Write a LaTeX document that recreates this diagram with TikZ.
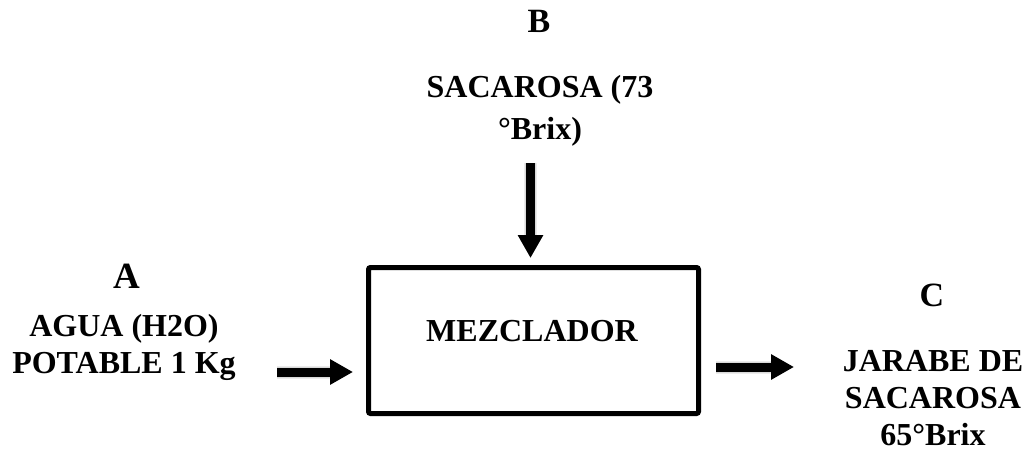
\documentclass[tikz,border=0pt]{standalone}
\usepackage{fontspec}
\setmainfont{Liberation Serif}
\usetikzlibrary{arrows.meta}

\tikzset{
  lbl/.style={font=\bfseries\fontsize{32}{37}\selectfont, align=center, inner sep=0pt, anchor=base},
  tag/.style={font=\bfseries\fontsize{#1}{#1}\selectfont, inner sep=0pt, anchor=base},
  mixer/.style={draw, line width=5pt, rounded corners=2pt, minimum width=330pt, minimum height=146pt, inner sep=0pt},
  flow/.style={line width=9pt, -{Triangle[length=23pt,width=24pt]}},
  flowshade/.style={flow, draw=black, opacity=0.08, line width=#1},
}

\begin{document}
\begin{tikzpicture}[x=1pt, y=-1pt]
  \useasboundingbox (0,0) rectangle (1033,455);

  % the mixer unit
  \node[mixer] (mix) at (533.5,340.5) {};
  \node[lbl] (mixtxt) at (532,341) {MEZCLADOR};

  % stream labels (multi-line labels sit on the baseline of their last line)
  \node[tag=34] (tagB) at (539,32) {B};
  \node[lbl] (inB) at (540,139) {SACAROSA (73\\[5pt]°Brix)};

  \node[tag=37] (tagA) at (127,288) {A};
  \node[lbl] (inA) at (124,373) {AGUA (H2O)\\POTABLE 1 Kg};

  \node[tag=34] (tagC) at (932,306) {C};
  \node[lbl] (outC) at (933,445) {JARABE DE\\SACAROSA\\65°Brix};

  % free ends of the streams
  \coordinate (srcA) at (277,372);
  \coordinate (srcB) at (530.5,163);
  \coordinate (dstC) at (794,367);

  % soft shadows under the arrows
  \foreach \w in {13pt,11pt} {
    \begin{scope}[shift={(2,4)}]
      \draw[flowshade=\w, shorten >=13pt] (srcA) -- (srcA -| mix.west);
      \draw[flowshade=\w, shorten >=7pt] (srcB) -- (srcB |- mix.north);
      \draw[flowshade=\w, shorten <=15pt] (dstC -| mix.east) -- (dstC);
    \end{scope}
  }

  % stream arrows
  \draw[flow, shorten >=13pt] (srcA) -- (srcA -| mix.west);
  \draw[flow, shorten >=7pt] (srcB) -- (srcB |- mix.north);
  \draw[flow, shorten <=15pt] (dstC -| mix.east) -- (dstC);
\end{tikzpicture}
\end{document}
